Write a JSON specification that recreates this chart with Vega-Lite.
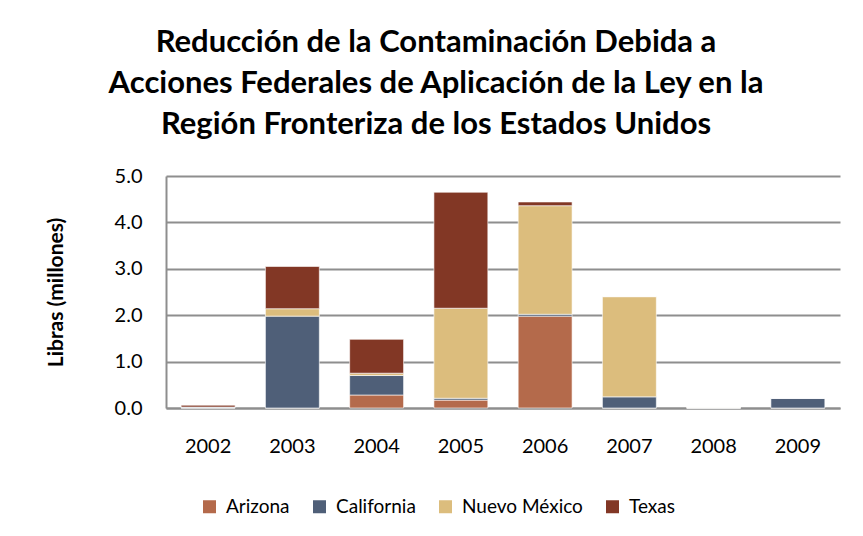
{
  "$schema": "https://vega.github.io/schema/vega-lite/v6.json",
  "autosize": {"type": "none"},
  "width": 674,
  "height": 232,
  "padding": {"left": 166, "top": 176, "right": 23, "bottom": 128},
  "background": "white",
  "title": {
    "text": ["Reducción de la Contaminación Debida a", "Acciones Federales de Aplicación de la Ley en la", "Región Fronteriza de los Estados Unidos"],
    "font": "Lato",
    "fontSize": 31,
    "fontWeight": "bold",
    "color": "#000000",
    "lineHeight": 41,
    "anchor": "middle",
    "dx": -67,
    "offset": 25
  },
  "data": {
    "values": [
      {"year": "2002", "state": "Arizona", "o": 1, "value": 0.0},
      {"year": "2002", "state": "California", "o": 2, "value": 0.02},
      {"year": "2002", "state": "Nuevo México", "o": 3, "value": 0.0},
      {"year": "2002", "state": "Texas", "o": 4, "value": 0.04},
      {"year": "2003", "state": "Arizona", "o": 1, "value": 0.0},
      {"year": "2003", "state": "California", "o": 2, "value": 1.98},
      {"year": "2003", "state": "Nuevo México", "o": 3, "value": 0.16},
      {"year": "2003", "state": "Texas", "o": 4, "value": 0.91},
      {"year": "2004", "state": "Arizona", "o": 1, "value": 0.28},
      {"year": "2004", "state": "California", "o": 2, "value": 0.42},
      {"year": "2004", "state": "Nuevo México", "o": 3, "value": 0.05},
      {"year": "2004", "state": "Texas", "o": 4, "value": 0.73},
      {"year": "2005", "state": "Arizona", "o": 1, "value": 0.17},
      {"year": "2005", "state": "California", "o": 2, "value": 0.04},
      {"year": "2005", "state": "Nuevo México", "o": 3, "value": 1.94},
      {"year": "2005", "state": "Texas", "o": 4, "value": 2.5},
      {"year": "2006", "state": "Arizona", "o": 1, "value": 1.98},
      {"year": "2006", "state": "California", "o": 2, "value": 0.04},
      {"year": "2006", "state": "Nuevo México", "o": 3, "value": 2.34},
      {"year": "2006", "state": "Texas", "o": 4, "value": 0.08},
      {"year": "2007", "state": "Arizona", "o": 1, "value": 0.0},
      {"year": "2007", "state": "California", "o": 2, "value": 0.24},
      {"year": "2007", "state": "Nuevo México", "o": 3, "value": 2.16},
      {"year": "2007", "state": "Texas", "o": 4, "value": 0.0},
      {"year": "2008", "state": "Arizona", "o": 1, "value": 0.0},
      {"year": "2008", "state": "California", "o": 2, "value": 0.0},
      {"year": "2008", "state": "Nuevo México", "o": 3, "value": 0.01},
      {"year": "2008", "state": "Texas", "o": 4, "value": 0.0},
      {"year": "2009", "state": "Arizona", "o": 1, "value": 0.0},
      {"year": "2009", "state": "California", "o": 2, "value": 0.21},
      {"year": "2009", "state": "Nuevo México", "o": 3, "value": 0.0},
      {"year": "2009", "state": "Texas", "o": 4, "value": 0.0}
    ]
  },
  "mark": {"type": "bar", "stroke": "white", "strokeWidth": 0.6},
  "encoding": {
    "x": {
      "field": "year",
      "type": "ordinal",
      "scale": {"paddingInner": 0.36, "paddingOuter": 0.18},
      "axis": {
        "title": null,
        "labelAngle": 0,
        "labelFont": "Lato",
        "labelFontSize": 20,
        "labelColor": "#000000",
        "labelPadding": 28,
        "ticks": false,
        "domainColor": "#8e8e8e",
        "domainWidth": 2
      }
    },
    "y": {
      "field": "value",
      "type": "quantitative",
      "stack": "zero",
      "scale": {"domain": [0, 5]},
      "axis": {
        "title": "Libras (millones)",
        "titleFont": "Lato",
        "titleFontSize": 21,
        "titleFontWeight": "bold",
        "titleColor": "#000000",
        "titlePadding": 48,
        "values": [0, 1, 2, 3, 4, 5],
        "format": ".1f",
        "labelFont": "Lato",
        "labelFontSize": 20,
        "labelColor": "#000000",
        "labelPadding": 24,
        "ticks": false,
        "grid": true,
        "gridColor": "#8e8e8e",
        "gridWidth": 2,
        "domainColor": "#8e8e8e",
        "domainWidth": 2
      }
    },
    "color": {
      "field": "state",
      "type": "nominal",
      "scale": {
        "domain": ["Arizona", "California", "Nuevo México", "Texas"],
        "range": ["#b46a4b", "#4f5f78", "#dcbd7d", "#823725"]
      },
      "legend": {
        "title": null,
        "orient": "none",
        "direction": "horizontal",
        "legendX": 34,
        "legendY": 321,
        "symbolType": "square",
        "symbolSize": 169,
        "symbolStrokeWidth": 0,
        "labelFont": "Lato",
        "labelFontSize": 19,
        "labelColor": "#000000",
        "columnPadding": 20,
        "labelOffset": 7
      }
    },
    "order": {"field": "o", "type": "quantitative"}
  },
  "config": {"view": {"stroke": null}}
}
